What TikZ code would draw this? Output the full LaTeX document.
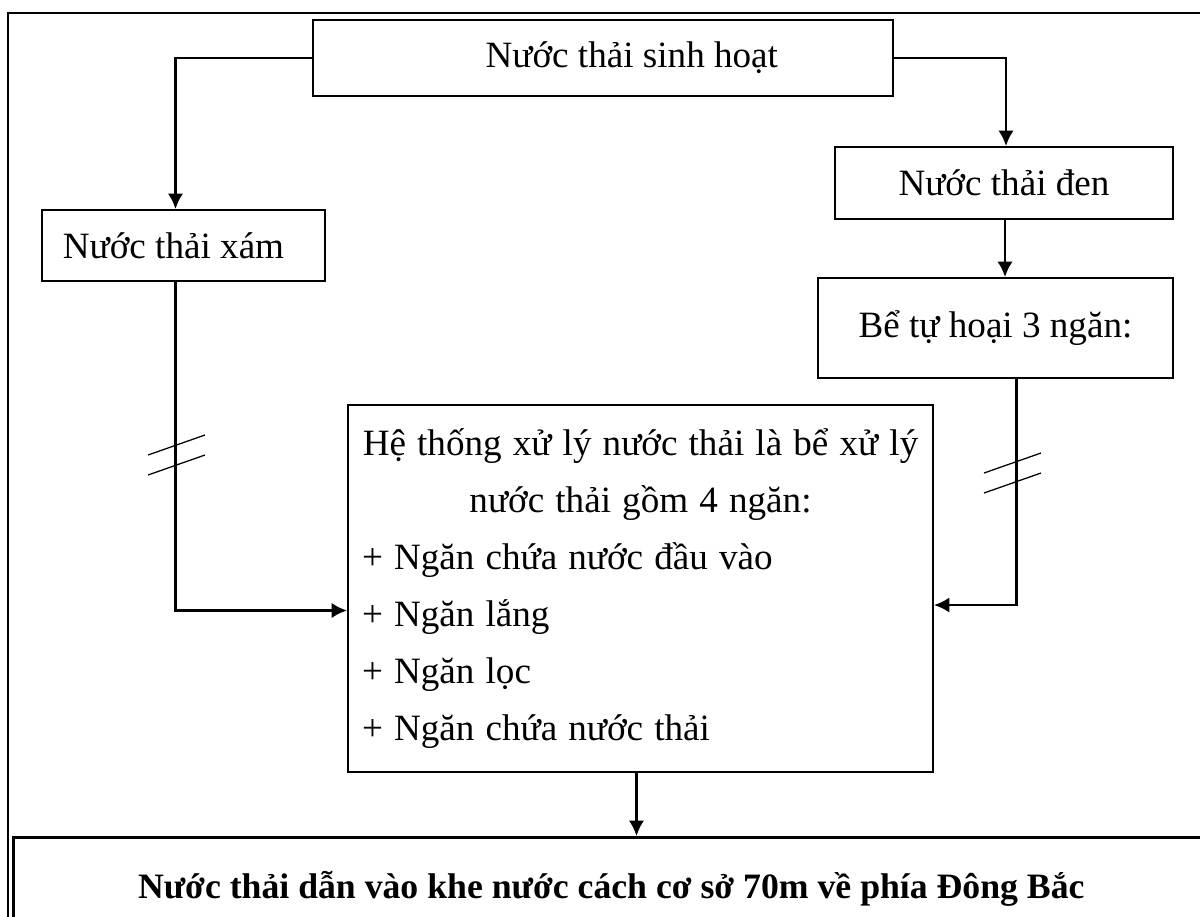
\documentclass[tikz,border=0pt]{standalone}
\usepackage{fontspec}
\setmainfont{Liberation Serif}
\usetikzlibrary{arrows.meta}
\newcommand{\pxu}{0.0125cm}
\tikzset{
    box/.style={draw, line width=0.7pt, inner sep=0pt, align=center},
    flow/.style={-{Latex[length=5.5pt,width=5.5pt]}, line width=0.9pt},
    cut/.style={line width=0.45pt},
    frame/.style={draw, line width=0.75pt},
}

\begin{document}
\begin{tikzpicture}[x=\pxu, y=-\pxu, font=\fontsize{13.2}{20.3}\selectfont]
    \clip (0,0) rectangle (1200,916);
    \draw[frame] (8,13) rectangle (1230,960);
    % cac hop
    \node[box, minimum width={580*\pxu}, minimum height={76*\pxu}] (src) at (603,58) {\hspace*{0.72cm}Nước thải sinh hoạt};
    \node[box, minimum width={283*\pxu}, minimum height={71*\pxu}] (grey) at (183.5,245.5) {Nước thải xám\hspace*{0.25cm}};
    \node[box, minimum width={338*\pxu}, minimum height={72*\pxu}] (black) at (1004,183) {Nước thải đen};
    \node[box, minimum width={355*\pxu}, minimum height={100*\pxu}] (septic) at (995.5,328) {Bể tự hoại 3 ngăn:};
    \node[draw, line width=0.7pt, inner ysep=0pt, text width={565*\pxu}, inner xsep={10*\pxu}, minimum height={367*\pxu}] (main) at (640.5,588.5)
        {\spaceskip=.3em\relax\xspaceskip=.3em\relax
         {\centering Hệ thống xử lý nước thải là bể xử lý\\ nước thải gồm 4 ngăn:\par}
         \raggedright\hspace*{0.05cm}+ Ngăn chứa nước đầu vào\\ \hspace*{0.05cm}+ Ngăn lắng\\
         \hspace*{0.05cm}+ Ngăn lọc\\ \hspace*{0.05cm}+ Ngăn chứa nước thải\par};
    \node[box, line width=0.9pt, anchor=north west, minimum width={1196*\pxu}, minimum height={104*\pxu}] (out) at (12,836)
        {\fontsize{12.7}{15}\selectfont\textbf{Nước thải dẫn vào khe nước cách cơ sở 70m về phía Đông Bắc}};
    % duong noi
    \coordinate (g) at ([xshift={-8*\pxu}]grey.south);
    \coordinate (s) at ([xshift={21*\pxu}]septic.south);
    \coordinate (m) at ([xshift={-4*\pxu}]main.south);
    \draw[flow] (src.west) -| ([xshift={-8*\pxu}]grey.north);
    \draw[flow] (src.east) -| ([xshift={2*\pxu}]black.north);
    \draw[flow] ([xshift={1*\pxu}]black.south) -- ([xshift={1*\pxu}]black.south |- septic.north);
    \draw[flow] (g) |- ([yshift={-22*\pxu}]main.west);
    \draw[flow] (s) |- ([yshift={-16.5*\pxu}]main.east);
    \draw[flow] (m) -- (m |- out.north);
    % dau cat
    \coordinate (cutL) at (176,455);
    \coordinate (cutR) at (1012,473);
    \foreach \c in {cutL,cutR}{
        \foreach \d in {-10,10}{
            \draw[cut] ([shift={(-28,\d+10)}]\c) -- ([shift={(29,\d-10)}]\c);
        }
    }
\end{tikzpicture}
\end{document}
